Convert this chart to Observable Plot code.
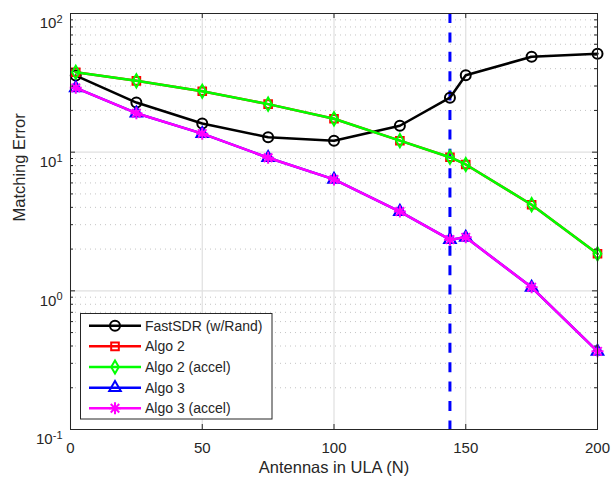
<!DOCTYPE html>
<html><head><meta charset="utf-8">
<script src="https://cdn.jsdelivr.net/npm/d3@7"></script>
<script src="https://cdn.jsdelivr.net/npm/@observablehq/plot@0.6"></script>
<style>
html,body{margin:0;padding:0;background:#fff;}
#chart{position:relative;width:613px;height:481px;}
</style></head><body><div id="chart"></div>
<script>
// ---- data ----
const antennas   = [2, 25, 50, 75, 100, 125, 144, 150, 175, 200];
const fastSDR    = [35.7, 22.8, 16.1, 12.8, 12.1, 15.5, 24.7, 35.9, 48.7, 51.2];
const algo2      = [37.7, 32.7, 27.5, 22.2, 17.4, 12.1, 9.2, 8.15, 4.18, 1.85];
const algo2accel = [37.7, 32.7, 27.5, 22.2, 17.4, 12.1, 9.2, 8.15, 4.18, 1.85];
const algo3      = [29.1, 19.1, 13.6, 9.12, 6.36, 3.73, 2.34, 2.43, 1.06, 0.366];
const algo3accel = [29.1, 19.1, 13.6, 9.12, 6.36, 3.73, 2.34, 2.43, 1.06, 0.366];
const seriesNames   = ["FastSDR (w/Rand)", "Algo 2", "Algo 2 (accel)", "Algo 3", "Algo 3 (accel)"];
const seriesValues  = [fastSDR, algo2, algo2accel, algo3, algo3accel];
const seriesColors  = ["#000000", "#ff0000", "#00ff00", "#0000ff", "#ff00ff"];
const seriesSymbols = ["circle", "square", "diamond", "triangle", "asterisk8"];
const seriesSizes   = [5, 4.3, 4, 4.3, 6];
const xTicks = [0, 50, 100, 150, 200];
const yMajorTicks = [0.1, 1, 10, 100];
const yMinorTicks = [0.2,0.3,0.4,0.5,0.6,0.7,0.8,0.9, 2,3,4,5,6,7,8,9, 20,30,40,50,60,70,80,90];
const thresholdN = [144];
const xLabel = "Antennas in ULA (N)";
const yLabel = "Matching Error";

// ---- layout ----
const W = 613, H = 481;
const mL = 70, mR = 16, mT = 13, mB = 52;
const pw = W - mL - mR, ph = H - mT - mB;
const axisColor = "#262626";
const fontFam = "'Liberation Sans', Arial, sans-serif";

// MATLAB-style 8-armed asterisk
const asterisk8 = {
  draw(ctx, size) {
    const r = Math.sqrt(size / Math.PI), d = r * Math.SQRT1_2;
    ctx.moveTo(0, -r); ctx.lineTo(0, r);
    ctx.moveTo(-r, 0); ctx.lineTo(r, 0);
    ctx.moveTo(-d, -d); ctx.lineTo(d, d);
    ctx.moveTo(-d, d); ctx.lineTo(d, -d);
  }
};
const symMap = {circle: d3.symbolCircle, square: d3.symbolSquare, diamond: d3.symbolDiamond, triangle: d3.symbolTriangle, asterisk8};

const rows = seriesNames.map((name, i) => antennas.map((x, j) => ({series: name, x, y: seriesValues[i][j]})));

const marks = [
  Plot.ruleY(yMinorTicks, {stroke: "#c4c4c4", strokeWidth: 1, strokeDasharray: "1,4"}),
  Plot.ruleY(yMajorTicks, {stroke: "#e0e0e0", strokeWidth: 1.2}),
  Plot.ruleX(xTicks, {stroke: "#e0e0e0", strokeWidth: 1.2}),
  Plot.ruleX(thresholdN, {stroke: "#0000ff", strokeWidth: 3, strokeDasharray: "10,9.4"}),
];
rows.forEach((r, i) => {
  marks.push(Plot.line(r, {x: "x", y: "y", stroke: seriesColors[i], strokeWidth: 2.5}));
  marks.push(Plot.dot(r, {x: "x", y: "y", symbol: symMap[seriesSymbols[i]], r: seriesSizes[i], stroke: seriesColors[i], strokeWidth: 2, fill: "none"}));
});
marks.push(
  Plot.frame({stroke: axisColor, strokeWidth: 1}),
  Plot.ruleX(xTicks, {stroke: axisColor, insetTop: ph - 5}),
  Plot.ruleX(xTicks, {stroke: axisColor, insetBottom: ph - 5}),
  Plot.ruleY(yMajorTicks, {stroke: axisColor, insetRight: pw - 5}),
  Plot.ruleY(yMajorTicks, {stroke: axisColor, insetLeft: pw - 5}),
  Plot.ruleY(yMinorTicks, {stroke: axisColor, insetRight: pw - 3}),
  Plot.ruleY(yMinorTicks, {stroke: axisColor, insetLeft: pw - 3}),
  Plot.axisX({ticks: xTicks, tickSize: 0, tickPadding: 13, fontSize: 15, label: null, tickFormat: d => String(d)}),
  Plot.axisY({ticks: yMajorTicks, tickSize: 0, tickPadding: 8, fontSize: 15, label: null,
              tickFormat: d => "10^" + Math.round(Math.log10(d))}),
  Plot.text([xLabel], {text: d => d, frameAnchor: "bottom", lineAnchor: "top", dy: 32, fontSize: 16.5, fill: axisColor}),
  Plot.text([yLabel], {text: d => d, frameAnchor: "left", rotate: -90, lineAnchor: "middle", dx: -50.3, fontSize: 16.5, fill: axisColor})
);

const svg = Plot.plot({
  width: W, height: H,
  marginLeft: mL, marginRight: mR, marginTop: mT, marginBottom: mB,
  style: {fontFamily: fontFam, color: axisColor, background: "#fff", overflow: "visible"},
  x: {domain: [0, 200]},
  y: {type: "log", domain: [0.1, 100]},
  marks
});
document.getElementById("chart").appendChild(svg);

// superscripts for log tick labels
d3.select(svg).selectAll('[aria-label="y-axis tick label"] text').each(function() {
  const t = d3.select(this);
  const parts = t.text().split("^");
  t.text("");
  t.attr("dy", "0.67em");
  t.append("tspan").text(parts[0]);
  t.append("tspan").attr("font-size", 11).attr("dy", "-0.5em").text(parts[1]);
});

// legend (inside the axes, lower left)
const lg = d3.select(svg).append("g").attr("font-family", fontFam).attr("text-anchor", "start");
lg.append("rect").attr("x", 80.5).attr("y", 313.5).attr("width", 191.5).attr("height", 105.5)
  .attr("fill", "#fff").attr("stroke", axisColor).attr("stroke-width", 1);
seriesNames.forEach((name, i) => {
  const cy = 325.7 + i * 20.65;
  lg.append("line").attr("x1", 89).attr("x2", 141).attr("y1", cy).attr("y2", cy)
    .attr("stroke", seriesColors[i]).attr("stroke-width", 2.5);
  lg.append("path").attr("d", d3.symbol(symMap[seriesSymbols[i]], Math.PI * seriesSizes[i] ** 2)())
    .attr("transform", `translate(115,${cy})`).attr("fill", "none")
    .attr("stroke", seriesColors[i]).attr("stroke-width", 2);
  lg.append("text").attr("x", 145).attr("y", cy).attr("dy", "0.35em")
    .attr("font-size", 14).attr("fill", axisColor).text(name);
});
</script>
</body></html>
